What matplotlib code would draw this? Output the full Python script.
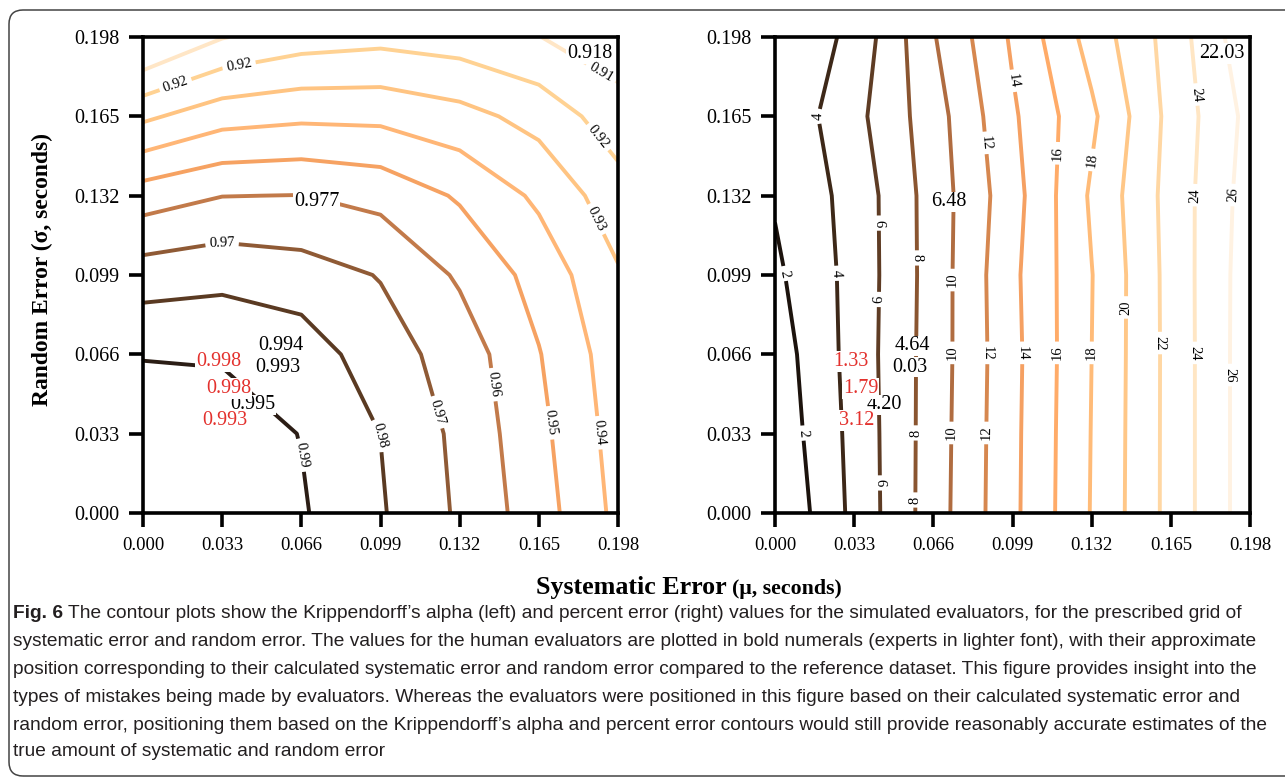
import matplotlib
matplotlib.use('Agg')
import matplotlib.pyplot as plt
from matplotlib import font_manager
from matplotlib.patches import FancyBboxPatch
from matplotlib.transforms import IdentityTransform

plt.rcParams['font.family'] = ['Liberation Serif', 'DejaVu Serif']

W, H = 1285, 778

# grid of the simulation (systematic error = x, random error = y)
sys_err = [0.0, 0.033, 0.066, 0.099, 0.132, 0.165, 0.198]
rand_err = [0.0, 0.033, 0.066, 0.099, 0.132, 0.165, 0.198]

# Krippendorff's alpha, one row per random error value (bottom -> top)
alpha_rows = [
    [1.000, 0.9955, 0.991, 0.981, 0.9685, 0.9545, 0.9375],
    [0.998, 0.995, 0.9897, 0.9799, 0.9675, 0.9527, 0.936],
    [0.9893, 0.989, 0.9855, 0.9745, 0.9657, 0.9505, 0.9345],
    [0.975, 0.977, 0.9745, 0.9695, 0.9586, 0.9463, 0.931],
    [0.955, 0.9598, 0.9602, 0.957, 0.9488, 0.9381, 0.9242],
    [0.928, 0.936, 0.938, 0.9376, 0.9334, 0.9265, 0.9145],
    [0.897, 0.9095, 0.9151, 0.917, 0.915, 0.9102, 0.904],
]

# percent error
pct_rows = [
    [0.0, 4.51, 9.03, 13.54, 18.11, 22.63, 27.14],
    [0.57, 4.61, 8.97, 13.5, 18.06, 22.63, 27.14],
    [0.945, 4.74, 8.91, 13.43, 18.0, 22.63, 27.14],
    [1.61, 4.67, 8.86, 13.56, 17.94, 22.67, 27.1],
    [2.2, 4.71, 8.89, 13.21, 18.29, 22.74, 26.91],
    [2.35, 5.38, 9.1, 13.7, 17.62, 22.6, 26.6],
    [2.1, 4.52, 9.85, 14.28, 18.79, 22.8, 27.5],
]

alpha_levels = [0.91, 0.92, 0.93, 0.94, 0.95, 0.96, 0.97, 0.98, 0.99]
pct_levels = [2, 4, 6, 8, 10, 12, 14, 16, 18, 20, 22, 24, 26]

# human evaluators: position (systematic, random) and their values
eval_sys = [0.0574, 0.0563, 0.0457, 0.0315, 0.0357, 0.0340, 0.0725, 0.1861]
eval_rand = [0.0695, 0.0607, 0.0450, 0.0630, 0.0518, 0.0385, 0.1294, 0.1911]
eval_alpha = ['0.994', '0.993', '0.995', '0.998', '0.998', '0.993', '0.977', '0.918']
eval_pct = ['4.64', '0.03', '4.20', '1.33', '1.79', '3.12', '6.48', '22.03']
eval_expert = [False, False, False, True, True, True, False, False]

tick_vals = [0.0, 0.033, 0.066, 0.099, 0.132, 0.165, 0.198]

caption_lines = [
    "The contour plots show the Krippendorff\u2019s alpha (left) and percent error (right) values for the simulated evaluators, for the prescribed grid of",
    "systematic error and random error. The values for the human evaluators are plotted in bold numerals (experts in lighter font), with their approximate",
    "position corresponding to their calculated systematic error and random error compared to the reference dataset. This figure provides insight into the",
    "types of mistakes being made by evaluators. Whereas the evaluators were positioned in this figure based on their calculated systematic error and",
    "random error, positioning them based on the Krippendorff\u2019s alpha and percent error contours would still provide reasonably accurate estimates of the",
    "true amount of systematic and random error",
]

# styling
alpha_colors = ['#ffe6c6', '#ffd293', '#ffc482', '#ffb676', '#f6a262',
                '#c27a4a', '#8f5a35', '#5a3a22', '#2b1d15']
pct_colors = ['#1c130d', '#3d2818', '#5e3c24', '#8a5530', '#b06c40',
              '#d6874f', '#f5a062', '#ffab68', '#ffbb78', '#ffc787',
              '#ffd7a3', '#ffe6c4', '#fff2e2']
alpha_label_pos = [(0.0133, 0.1789), (0.0404, 0.1843), (0.1905, 0.1825),
                   (0.1918, 0.158), (0.1897, 0.1226), (0.0329, 0.1127),
                   (0.0663, 0.0241), (0.1000, 0.0324), (0.1230, 0.0420),
                   (0.1446, 0.0532), (0.1688, 0.0374), (0.1893, 0.0333)]
pct_label_pos = [(0.0050, 0.0998), (0.0125, 0.0333), (0.0175, 0.1651),
                 (0.0271, 0.0998), (0.0450, 0.1206), (0.0446, 0.0888),
                 (0.0438, 0.0125), (0.0596, 0.1061), (0.0592, 0.0333),
                 (0.0604, 0.0054), (0.0738, 0.0969), (0.0742, 0.0666),
                 (0.0729, 0.0333), (0.0871, 0.1539), (0.0884, 0.0666),
                 (0.0875, 0.0333), (0.0988, 0.1797), (0.1025, 0.0666),
                 (0.1159, 0.1497), (0.1171, 0.0666), (0.1326, 0.1468),
                 (0.1321, 0.0666), (0.1467, 0.0855), (0.1605, 0.0707),
                 (0.1738, 0.1739), (0.1751, 0.1322), (0.1751, 0.0666),
                 (0.1917, 0.1322), (0.1897, 0.0574)]
RED = '#e3312d'

fig = plt.figure(figsize=(W / 100, H / 100), dpi=100)
fig.patch.set_facecolor('white')

ax1 = fig.add_axes([143 / W, 1 - 513 / H, 475 / W, 476 / H])
ax2 = fig.add_axes([775 / W, 1 - 513 / H, 475 / W, 476 / H])


def style_axes(ax):
    ax.set_xlim(0, 0.198)
    ax.set_ylim(0, 0.198)
    ax.set_xticks(tick_vals)
    ax.set_yticks(tick_vals)
    ax.set_xticklabels([f'{t:.3f}' for t in tick_vals], fontsize=13.5)
    ax.set_yticklabels([f'{t:.3f}' for t in tick_vals], fontsize=14.5)
    for sp in ax.spines.values():
        sp.set_linewidth(2.6)
    ax.tick_params(direction='out', length=10, width=2.6, pad=7,
                   top=False, right=False)


def draw_panel(ax, rows, levels, colors, label_pos, fmt, texts):
    cs = ax.contour(sys_err, rand_err, rows, levels=levels, colors=colors,
                    linewidths=2.8)
    labels = ax.clabel(cs, fmt=fmt, fontsize=10.5, colors='black', inline=True,
                       inline_spacing=4, manual=label_pos)
    for lb in labels:
        lb.set_zorder(6)
        lb.set_clip_on(False)
    for x, y, s, ex in zip(eval_sys, eval_rand, texts, eval_expert):
        ax.text(x, y, s, ha='center', va='center', fontsize=14.5,
                color=RED if ex else 'black', zorder=5,
                bbox=dict(fc='white', ec='none', pad=0.6))
    style_axes(ax)


draw_panel(ax1, alpha_rows, alpha_levels, alpha_colors, alpha_label_pos,
           '%.2f', eval_alpha)
draw_panel(ax2, pct_rows, pct_levels, pct_colors, pct_label_pos,
           '%d', eval_pct)

yl = fig.text(42 / W, 1 - 269 / H, 'Random Error (\u03c3, seconds)', rotation=90,
              ha='center', va='center', fontsize=16, fontweight='bold')
xl1 = fig.text(536 / W, 1 - 594 / H, 'Systematic Error',
               ha='left', va='baseline', fontsize=16, fontweight='bold')
xl2 = fig.text(0, 1 - 594 / H, '(\u03bc, seconds)',
               ha='left', va='baseline', fontsize=13.5, fontweight='bold')

# rounded frame around the figure block
frame = FancyBboxPatch((9, 2), 1320, H - 12,
                       boxstyle='round,pad=0,rounding_size=14',
                       transform=IdentityTransform(), fill=False,
                       ec='#444444', lw=1.1)
fig.add_artist(frame)

# caption
names = {f.name for f in font_manager.fontManager.ttflist}
cap_font = 'Liberation Sans Narrow' if 'Liberation Sans Narrow' in names else 'Liberation Sans'
cap_color = '#231f20'
cap_x = 13
cap_y = [613, 641, 669, 697, 725, 752]
base_size = 12
fig_label = fig.text(cap_x / W, 1 - cap_y[0] / H, 'Fig. 6', fontsize=base_size,
                     fontweight='bold', family=cap_font, color=cap_color,
                     va='center', ha='left')
cap_texts = []
for i, line in enumerate(caption_lines):
    t = fig.text(cap_x / W, 1 - cap_y[i] / H, line, fontsize=base_size,
                 family=cap_font, color=cap_color, va='center', ha='left')
    cap_texts.append(t)

fig.canvas.draw()
r = fig.canvas.get_renderer()
w5 = cap_texts[4].get_window_extent(r).width
scale = (1272 - cap_x) / w5
for t in cap_texts + [fig_label]:
    t.set_fontsize(base_size * scale)

# fit the axis titles to the space they take in the figure
yh = yl.get_window_extent(r).height
yl.set_fontsize(16 * 274 / yh)
fig.canvas.draw()
xw = xl2.get_window_extent(r).width + 5 + xl1.get_window_extent(r).width
xs = 308 / xw
xl1.set_fontsize(16 * xs)
xl2.set_fontsize(13.5 * xs)
fig.canvas.draw()

bw = fig_label.get_window_extent(r).x1
space = 0.28 * base_size * scale * 100 / 72
cap_texts[0].set_x((bw + space) / W)
xr = xl1.get_window_extent(r).x1
xl2.set_x((xr + 5) / W)

fig.savefig('out.png', dpi=100, facecolor='white')
